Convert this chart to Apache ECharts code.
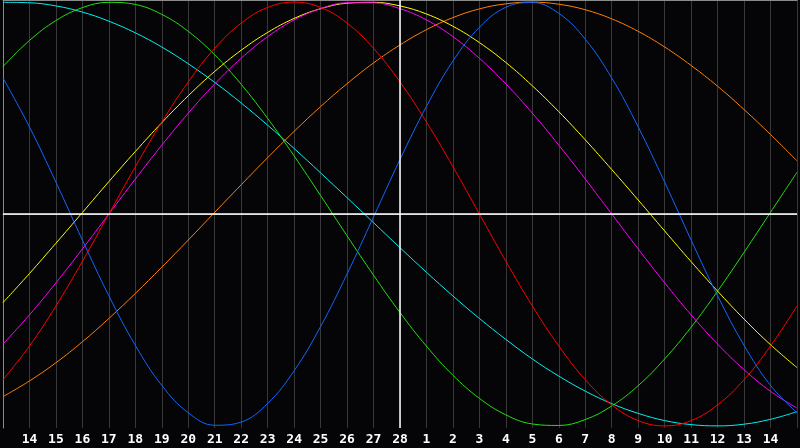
<!DOCTYPE html>
<html>
<head>
<meta charset="utf-8">
<script src="https://cdn.jsdelivr.net/npm/echarts@6/dist/echarts.min.js"></script>
<style>
html,body{margin:0;padding:0;background:#050508;}
#chart{width:800px;height:448px;}
</style>
</head>
<body>
<div id="chart"></div>
<script>
// Day labels (Feb 13 .. Mar 15); first and last are at the plot edges and not shown
const dayLabels = ['13','14','15','16','17','18','19','20','21','22','23','24','25','26','27','28',
  '1','2','3','4','5','6','7','8','9','10','11','12','13','14','15'];
const todayLabelIndex = 15;

// Cycle values, one per day
const physical = [0.642,0.411,0.150,-0.123,-0.386,-0.620,-0.809,-0.938,-0.997,-0.982,-0.894,-0.740,-0.531,-0.283,-0.014,
  0.257,0.508,0.722,0.881,0.976,0.998,0.947,0.825,0.642,0.411,0.150,-0.123,-0.386,-0.620,-0.809,-0.938];
const emotional = [-0.782,-0.623,-0.434,-0.223,0,0.223,0.434,0.623,0.782,0.901,0.975,1.0,0.975,0.901,0.782,
  0.623,0.434,0.223,0,-0.223,-0.434,-0.623,-0.782,-0.901,-0.975,-1.0,-0.975,-0.901,-0.782,-0.623,-0.434];
const intellectual = [0.696,0.819,0.913,0.974,0.999,0.989,0.942,0.862,0.751,0.612,0.451,0.274,0.087,-0.103,-0.289,
  -0.465,-0.624,-0.761,-0.870,-0.948,-0.991,-0.998,-0.970,-0.906,-0.810,-0.684,-0.534,-0.364,-0.181,0.008,0.197];
const intuitive = [-0.614,-0.476,-0.325,-0.165,0,0.165,0.325,0.476,0.614,0.735,0.837,0.916,0.969,0.997,0.997,
  0.969,0.916,0.837,0.735,0.614,0.476,0.325,0.165,0,-0.165,-0.325,-0.476,-0.614,-0.735,-0.837,-0.916];
const aesthetic = [-0.418,-0.281,-0.138,0.007,0.153,0.295,0.431,0.558,0.673,0.773,0.857,0.923,0.969,0.995,0.999,
  0.982,0.944,0.886,0.809,0.715,0.605,0.483,0.350,0.210,0.066,-0.080,-0.225,-0.364,-0.496,-0.617,-0.725];
const awareness = [-0.862,-0.788,-0.702,-0.603,-0.493,-0.375,-0.251,-0.123,0.008,0.138,0.266,0.390,0.507,0.615,0.713,
  0.798,0.870,0.927,0.968,0.992,1.000,0.990,0.964,0.921,0.862,0.788,0.701,0.603,0.493,0.375,0.251];
const spiritual = [0.999,0.997,0.982,0.953,0.910,0.855,0.788,0.709,0.621,0.524,0.419,0.309,0.194,0.077,-0.041,
  -0.159,-0.275,-0.387,-0.493,-0.592,-0.684,-0.765,-0.836,-0.895,-0.941,-0.975,-0.994,-1.000,-0.992,-0.969,-0.933];

const seriesDefs = [
  {name:'Awareness', data:awareness, color:'#ff8000'},
  {name:'Spiritual', data:spiritual, color:'#00f0f0'},
  {name:'Intellectual', data:intellectual, color:'#22e010'},
  {name:'Aesthetic', data:aesthetic, color:'#ffff00'},
  {name:'Intuitive', data:intuitive, color:'#ff00ff'},
  {name:'Emotional', data:emotional, color:'#ff0000'},
  {name:'Physical', data:physical, color:'#1066ff'}
];

const chart = echarts.init(document.getElementById('chart'));
const series = seriesDefs.map(s => ({
  name: s.name, type: 'line', data: s.data, smooth: 0.4, symbol: 'none',
  lineStyle: {color: s.color, width: 1}, silent: true, z: 3
}));
series.push({
  type: 'line', data: [], silent: true, z: 2,
  markLine: {
    silent: true, symbol: 'none', label: {show: false},
    lineStyle: {color: '#ffffff', width: 1.5, type: 'solid'},
    data: [{yAxis: 0}, {xAxis: todayLabelIndex}]
  }
});

chart.setOption({
  backgroundColor: '#050508',
  animation: false,
  grid: {left: 0, right: 0, top: 0, bottom: 20, containLabel: false},
  xAxis: [{
    type: 'category', data: dayLabels, boundaryGap: false,
    axisLine: {show: true, lineStyle: {color: '#8a8a8a', width: 1}},
    axisTick: {show: false},
    axisLabel: {
      interval: 0, color: '#ffffff', fontFamily: 'DejaVu Sans Mono', fontWeight: 'bold', fontSize: 13, margin: 5,
      formatter: (v, i) => (i === 0 || i === dayLabels.length - 1) ? '' : v
    },
    splitLine: {show: true, interval: 0, lineStyle: {color: '#383838', width: 1}}
  }, {
    type: 'category', data: dayLabels, boundaryGap: false, position: 'top',
    axisLine: {show: true, lineStyle: {color: '#8a8a8a', width: 1}},
    axisTick: {show: false}, axisLabel: {show: false}, splitLine: {show: false}
  }],
  yAxis: {
    type: 'value', min: -1.01, max: 1.01,
    axisLine: {show: true, lineStyle: {color: '#8a8a8a'}},
    axisTick: {show: false}, axisLabel: {show: false}, splitLine: {show: false}
  },
  series: series
});
</script>
</body>
</html>
